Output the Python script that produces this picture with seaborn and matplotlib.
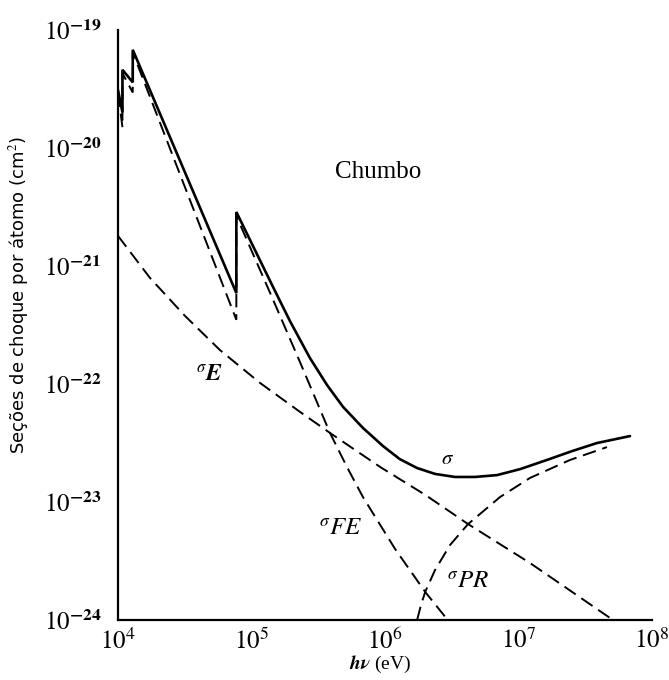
import matplotlib
matplotlib.use("Agg")
import matplotlib.pyplot as plt
from matplotlib.ticker import NullLocator, FixedLocator, FixedFormatter
import pandas as pd
import seaborn as sns

# Photon cross sections per atom for lead (cm^2) versus photon energy (eV)
energy_total = [1.0e4, 1.08e4, 1.08e4, 1.29e4, 1.29e4, 7.7e4, 7.7e4, 1.06e5,
                1.45e5, 1.94e5, 2.74e5, 3.68e5, 4.85e5, 6.84e5, 9.66e5, 1.29e6,
                1.74e6, 2.37e6, 3.34e6, 4.72e6, 6.9e6, 1.03e7, 1.63e7, 2.52e7,
                3.87e7, 6.84e7]
sigma_total = [3.1e-20, 2.0e-20, 4.6e-20, 3.6e-20, 6.8e-20, 5.9e-22, 2.87e-21, 1.37e-21,
               6.64e-22, 3.42e-22, 1.66e-22, 9.8e-23, 6.4e-23, 4.24e-23, 2.98e-23, 2.31e-23,
               1.94e-23, 1.73e-23, 1.63e-23, 1.63e-23, 1.69e-23, 1.9e-23, 2.27e-23, 2.7e-23,
               3.16e-23, 3.62e-23]

energy_fe = [1.0e4, 1.08e4, 1.08e4, 1.29e4, 1.29e4, 7.7e4, 7.7e4, 1.38e5,
             2.31e5, 3.87e5, 5.19e5, 6.84e5, 1.19e6, 2.0e6, 2.95e6]
sigma_fe = [2.9e-20, 1.5e-20, 4.3e-20, 2.95e-20, 6.45e-20, 3.5e-22, 2.65e-21, 5.9e-22,
            1.53e-22, 3.85e-23, 1.98e-23, 1.1e-23, 4.0e-24, 1.73e-24, 1.0e-24]

energy_e = [1.0e4, 1.74e4, 3.18e4, 5.8e4, 1.16e5, 2.31e5, 3.87e5, 9.2e5,
            2.0e6, 4.19e6, 1.22e7, 5.1e7]
sigma_e = [1.8e-21, 7.9e-22, 3.77e-22, 1.94e-22, 1.02e-22, 5.8e-23, 3.85e-23, 1.98e-23,
           1.15e-23, 6.5e-24, 3.04e-24, 1.0e-24]

energy_pr = [1.74e6, 1.86e6, 2.0e6, 2.37e6, 3.07e6, 4.19e6, 7.26e6, 1.22e7, 2.43e7, 4.6e7]
sigma_pr = [1.0e-24, 1.34e-24, 1.73e-24, 2.65e-24, 4.32e-24, 6.5e-24, 1.1e-23, 1.6e-23,
            2.27e-23, 2.92e-23]

x_ticks = [1e4, 1e5, 1e6, 1e7, 1e8]
x_tick_labels = [r"$10^{4}$", r"$10^{5}$", r"$10^{6}$", r"$10^{7}$", r"$10^{8}$"]
y_ticks = [1e-24, 1e-23, 1e-22, 1e-21, 1e-20, 1e-19]
y_tick_labels = [r"$10^{\mathbf{-24}}$", r"$10^{\mathbf{-23}}$", r"$10^{\mathbf{-22}}$",
                 r"$10^{\mathbf{-21}}$", r"$10^{\mathbf{-20}}$", r"$10^{\mathbf{-19}}$"]

sns.set_theme(style="white")
plt.rcParams["font.family"] = ["Liberation Serif", "DejaVu Serif"]
plt.rcParams["mathtext.fontset"] = "stix"

W, H = 669, 680
L, R, B, T = 118, 652, 620, 30
fig = plt.figure(figsize=(W / 100, H / 100), dpi=100)
ax = fig.add_axes([L / W, (H - B) / H, (R - L) / W, (B - T) / H])
ax.set_xscale("log")
ax.set_yscale("log")

dash = (0, (7, 3.5))


def draw(energy, sigma, style, lw):
    df = pd.DataFrame({"energy": energy, "sigma": sigma})
    sns.lineplot(data=df, x="energy", y="sigma", ax=ax, sort=False, estimator=None,
                 color="black", lw=lw, linestyle=style,
                 solid_joinstyle="miter", dash_joinstyle="miter")


draw(energy_e, sigma_e, dash, 1.4)
draw(energy_fe, sigma_fe, dash, 1.4)
draw(energy_pr, sigma_pr, dash, 1.4)
draw(energy_total, sigma_total, "-", 1.9)

ax.set_xlim(1e4, 1e8)
ax.set_ylim(1e-24, 1e-19)
ax.xaxis.set_major_locator(FixedLocator(x_ticks))
ax.xaxis.set_major_formatter(FixedFormatter(x_tick_labels))
ax.yaxis.set_major_locator(FixedLocator(y_ticks))
ax.yaxis.set_major_formatter(FixedFormatter(y_tick_labels))
ax.xaxis.set_minor_locator(NullLocator())
ax.yaxis.set_minor_locator(NullLocator())
ax.tick_params(axis="both", which="major", direction="in", length=7, width=1.0,
               colors="black", labelsize=18)
ax.tick_params(axis="x", pad=6)
ax.tick_params(axis="y", pad=12)

sns.despine(ax=ax)
for side in ("left", "bottom"):
    ax.spines[side].set_color("black")
    ax.spines[side].set_linewidth(1.6)

ax.set_xlabel(r"$\mathbfit{h\nu}$ (eV)", fontsize=14, color="black")
ax.xaxis.set_label_coords((380 - L) / (R - L), -(654 - B) / (B - T))
ax.set_ylabel("Seções de choque por átomo (cm$^2$)", fontsize=13, color="black",
              family=["Liberation Sans Narrow", "DejaVu Sans"])
ax.yaxis.set_label_coords((31 - L) / (R - L), (B - 295) / (B - T))


def place(px, py, text, **kw):
    ax.text((px - L) / (R - L), (B - py) / (B - T), text, transform=ax.transAxes,
            ha="center", va="center", color="black", **kw)


place(378, 172, "Chumbo", fontsize=18)
place(448, 460, r"$\sigma$", fontsize=15)
place(210, 376, r"${}^{\sigma}\mathbfit{E}$", fontsize=17)
place(341, 530, r"${}^{\sigma}\mathit{FE}$", fontsize=18)
place(468, 583, r"${}^{\sigma}\mathit{PR}$", fontsize=18)

fig.savefig("out.png", dpi=100, facecolor="white")
